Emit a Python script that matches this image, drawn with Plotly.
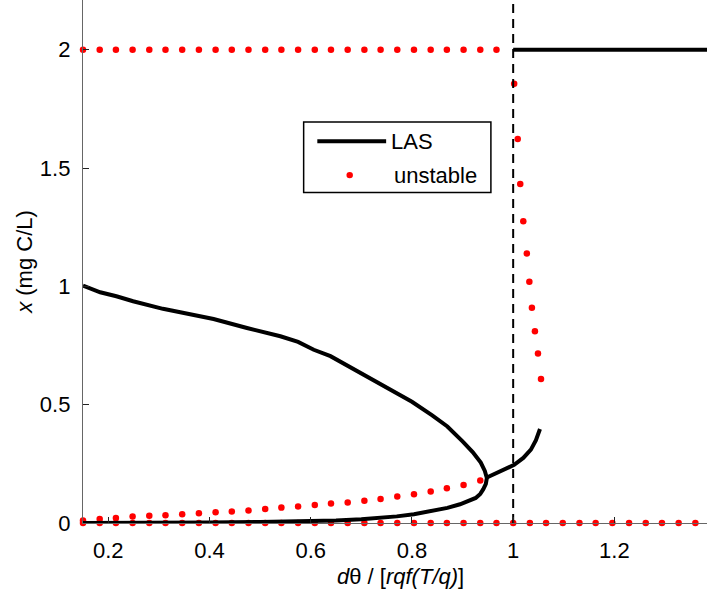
import plotly.graph_objects as go

# ---- data ----
# parameter grid of the unstable equilibria (x-axis values)
grid_x = [0.150, 0.183, 0.215, 0.248, 0.281, 0.313, 0.346, 0.379, 0.412, 0.444,
          0.477, 0.510, 0.542, 0.575, 0.608, 0.640, 0.673, 0.706, 0.738, 0.771,
          0.804, 0.837, 0.869, 0.902, 0.935, 0.967, 1.000, 1.033, 1.065, 1.098,
          1.131, 1.163, 1.196, 1.229, 1.262, 1.294, 1.327, 1.360]

# unstable at x = 2 (left of threshold)
unstable_top_x = grid_x[:26]
unstable_top_y = [2.0] * 26

# unstable at x = 0
unstable_zero_x = grid_x
unstable_zero_y = [0.0] * len(grid_x)

# unstable lower branch (below the LAS fold)
unstable_low_x = grid_x[:25]
unstable_low_y = [0.011, 0.017, 0.021, 0.027, 0.031, 0.033, 0.037, 0.041, 0.045, 0.049,
                  0.053, 0.059, 0.065, 0.070, 0.076, 0.082, 0.087, 0.094, 0.101, 0.112,
                  0.122, 0.133, 0.147, 0.161, 0.180]

# unstable branch right of threshold
unstable_right_x = [1.002, 1.009, 1.014, 1.020, 1.027, 1.032, 1.037, 1.043, 1.049, 1.055]
unstable_right_y = [1.856, 1.623, 1.433, 1.275, 1.139, 1.019, 0.910, 0.810, 0.716, 0.609]

# LAS: upper branch folding into the lower branch
las_fold_x = [0.150, 0.184, 0.216, 0.249, 0.308, 0.356, 0.408, 0.474, 0.540, 0.575,
              0.606, 0.639, 0.705, 0.750, 0.800, 0.840, 0.870, 0.900, 0.920, 0.936,
              0.944, 0.948,
              0.946, 0.941, 0.935, 0.926, 0.914, 0.895, 0.870, 0.840, 0.804, 0.770,
              0.738, 0.700, 0.650, 0.600, 0.550, 0.500, 0.400, 0.300, 0.200, 0.150]
las_fold_y = [1.003, 0.975, 0.958, 0.937, 0.905, 0.885, 0.862, 0.824, 0.789, 0.765,
              0.732, 0.705, 0.627, 0.572, 0.512, 0.455, 0.408, 0.345, 0.300, 0.255,
              0.220, 0.190,
              0.165, 0.143, 0.123, 0.106, 0.094, 0.079, 0.064, 0.050, 0.037, 0.028,
              0.021, 0.016, 0.011, 0.008, 0.005, 0.004, 0.002, 0.001, 0.0005, 0.0]

# LAS: branch emerging to the right of the fold
las_right_x = [0.948, 0.969, 0.990, 1.002, 1.020, 1.035, 1.045, 1.053]
las_right_y = [0.192, 0.214, 0.234, 0.246, 0.275, 0.310, 0.350, 0.397]

# LAS at x = 2 beyond threshold
las_top_x = [1.000, 1.383]
las_top_y = [2.0, 2.0]

# threshold
threshold_x = [1.0, 1.0]
threshold_y = [0.0, 2.21]

x_ticks = [0.2, 0.4, 0.6, 0.8, 1.0, 1.2]
x_ticklabels = ["0.2", "0.4", "0.6", "0.8", "1", "1.2"]
y_ticks = [0, 0.5, 1, 1.5, 2]
y_ticklabels = ["0", "0.5", "1", "1.5", "2"]

legend_labels = ["LAS", "unstable"]
x_title = "<i>d</i>θ / [<i>rqf(T/q)</i>]"
y_title = "<i>x</i> (mg C/L)"

# ---- figure ----
RED = "#ff0000"
BLACK = "#000000"
FONT = "Liberation Sans, Arial, sans-serif"
FS = 22

fig = go.Figure()

dot = dict(color=RED, size=6.5, line=dict(width=0))
for xs, ys in [(unstable_top_x, unstable_top_y),
               (unstable_zero_x, unstable_zero_y),
               (unstable_low_x, unstable_low_y),
               (unstable_right_x, unstable_right_y)]:
    fig.add_trace(go.Scatter(x=xs, y=ys, mode="markers", marker=dot,
                             name=legend_labels[1], showlegend=False,
                             cliponaxis=False))

fig.add_trace(go.Scatter(x=threshold_x, y=threshold_y, mode="lines",
                         line=dict(color=BLACK, width=2, dash="9px,6px"),
                         showlegend=False, hoverinfo="skip"))

line = dict(color=BLACK, width=4)
for xs, ys in [(las_fold_x, las_fold_y),
               (las_right_x, las_right_y),
               (las_top_x, las_top_y)]:
    fig.add_trace(go.Scatter(x=xs, y=ys, mode="lines", line=line,
                             name=legend_labels[0], showlegend=False))

# ---- legend box (drawn in axis coordinates) ----
box = dict(x0=0.586, x1=0.956, y0=1.397, y1=1.694)
row_y = [1.613, 1.470]
fig.add_shape(type="rect", xref="x", yref="y", **box,
              line=dict(color=BLACK, width=1.5), fillcolor="white", layer="above")
fig.add_shape(type="line", xref="x", yref="y", x0=0.613, x1=0.749,
              y0=row_y[0], y1=row_y[0], line=dict(color=BLACK, width=4), layer="above")
fig.add_shape(type="circle", xref="x", yref="y", x0=0.677 - 0.0064, x1=0.677 + 0.0064,
              y0=row_y[1] - 0.0137, y1=row_y[1] + 0.0137,
              line=dict(width=0), fillcolor=RED, layer="above")
fig.add_annotation(x=0.755, y=row_y[0], xref="x", yref="y", text=legend_labels[0],
                   showarrow=False, xanchor="left", yanchor="middle",
                   font=dict(size=FS, family=FONT, color=BLACK))
fig.add_annotation(x=0.761, y=row_y[1], xref="x", yref="y", text=legend_labels[1],
                   showarrow=False, xanchor="left", yanchor="middle",
                   font=dict(size=FS, family=FONT, color=BLACK))

# x-axis title (slightly right of plot-area centre, as in the reference)
fig.add_annotation(x=0.5096, y=0, xref="paper", yref="paper", text=x_title,
                   showarrow=False, xanchor="center", yanchor="middle", yshift=-53,
                   font=dict(size=FS, family=FONT, color=BLACK))

fig.update_layout(
    width=707, height=590,
    margin=dict(l=83, r=0, t=0, b=67),
    paper_bgcolor="white", plot_bgcolor="white",
    font=dict(family=FONT, size=FS, color="black"),
    showlegend=False,
    xaxis=dict(range=[0.15, 1.383], showgrid=False, zeroline=False,
               showline=True, linecolor="#666666", linewidth=1.3,
               ticks="inside", ticklen=6, tickcolor="#222222",
               tickvals=x_ticks, ticktext=x_ticklabels,
               ticklabelstandoff=7),
    yaxis=dict(range=[0, 2.21], showgrid=False, zeroline=False,
               showline=True, linecolor="#666666", linewidth=1.3,
               ticks="inside", ticklen=6, tickcolor="#222222",
               tickvals=y_ticks, ticktext=y_ticklabels,
               ticklabelstandoff=7,
               title=dict(text=y_title, standoff=1,
                          font=dict(size=FS))),
)

fig.write_html("out.html")
